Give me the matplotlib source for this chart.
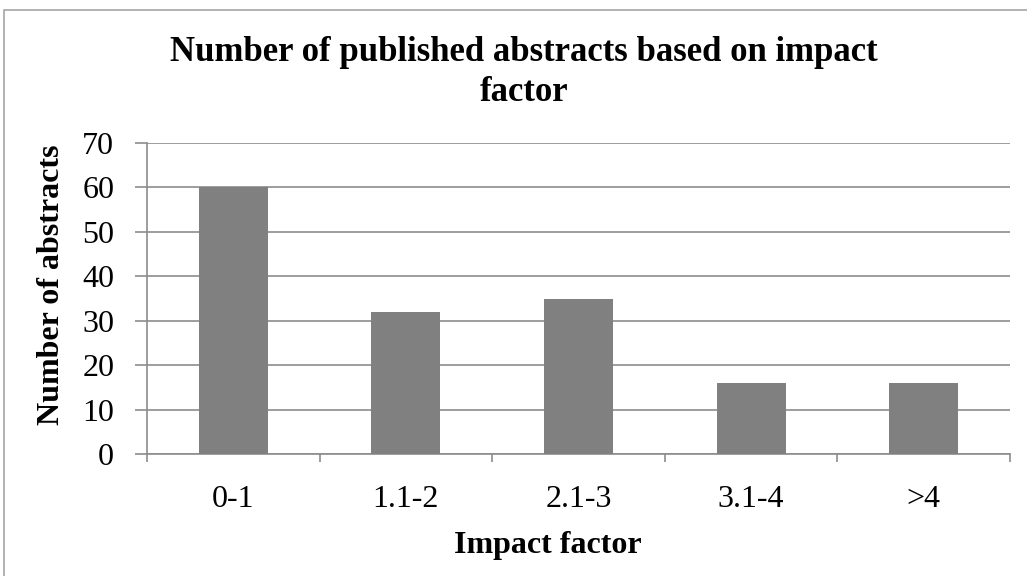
import matplotlib
matplotlib.use("Agg")
import matplotlib.pyplot as plt
from matplotlib.patches import Rectangle
import numpy as np

categories = ["0-1", "1.1-2", "2.1-3", "3.1-4", ">4"]
values = [60, 32, 35, 16, 16]
yticks = [0, 10, 20, 30, 40, 50, 60, 70]

plt.rcParams['font.family'] = ['Liberation Serif', 'DejaVu Serif']

W, H = 1027, 576
fig = plt.figure(figsize=(W / 100, H / 100), dpi=100)
fig.patch.set_facecolor('white')

# outer border
fig.patches.append(Rectangle((4 / W, -0.05), 1.2, 1 - 10 / H + 0.05, transform=fig.transFigure,
                             fill=False, edgecolor='#a6a6a6', linewidth=1.2))

L, R, T, B = 147, 1010, 143, 454
ax = fig.add_axes([L / W, 1 - B / H, (R - L) / W, (B - T) / H])
x = np.arange(len(categories))
ax.bar(x, values, width=0.4, color='#808080', zorder=3)

ax.set_xlim(-0.5, len(categories) - 0.5)
ax.set_ylim(0, 70)
ax.set_yticks(yticks)
ax.set_yticklabels([str(v) for v in yticks], fontsize=23)
ax.yaxis.grid(True, color='#8c8c8c', linewidth=1.2, zorder=0)
ax.set_axisbelow(True)

ax.set_xticks(np.arange(-0.5, len(categories), 1.0))
ax.set_xticklabels([])
ax.set_xticks(x, minor=True)
ax.set_xticklabels(categories, minor=True, fontsize=23)
ax.tick_params(axis='x', which='minor', length=0, pad=22)
ax.tick_params(axis='x', which='major', length=6, color='#8c8c8c', width=1.2)
ax.tick_params(axis='y', length=8.6, color='#8c8c8c', width=1.2, pad=15)

for s in ['top', 'right']:
    ax.spines[s].set_visible(False)
for s in ['left', 'bottom']:
    ax.spines[s].set_color('#8c8c8c')
    ax.spines[s].set_linewidth(1.2)

xl = ax.set_xlabel("Impact factor", fontsize=23, fontweight='bold')
ax.xaxis.set_label_coords(((548 - L) / (R - L)), (B - 546) / (B - T))
xl.set_va('center')
yl = ax.set_ylabel("Number of abstracts", fontsize=23, fontweight='bold')
ax.yaxis.set_label_coords((52 - L) / (R - L), (B - 285) / (B - T))
yl.set_va('center')

fig.text(524 / W, 1 - 61 / H, "Number of published abstracts based on impact",
         ha='center', va='baseline', fontsize=25, fontweight='bold')
fig.text(524 / W, 1 - 101 / H, "factor", ha='center', va='baseline', fontsize=25, fontweight='bold')

fig.savefig("out.png", dpi=100, facecolor='white')
